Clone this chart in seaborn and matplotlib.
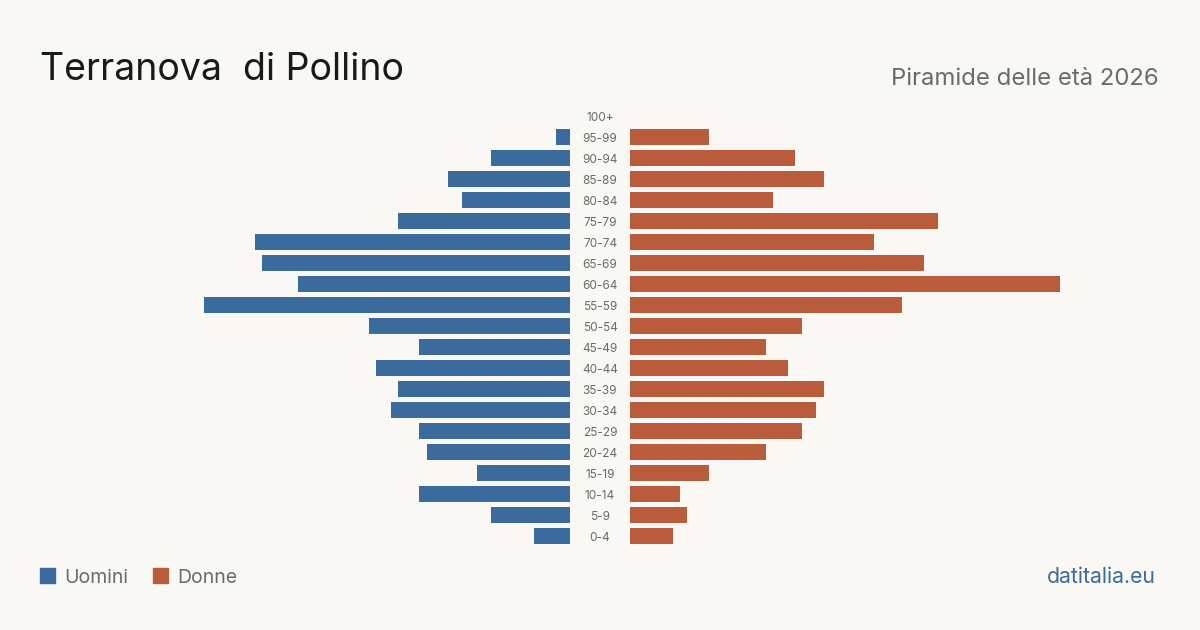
import matplotlib
matplotlib.use('Agg')
import matplotlib.pyplot as plt
import matplotlib.patches as mpatches
import pandas as pd
import seaborn as sns

# age classes, top to bottom
eta = ['100+', '95-99', '90-94', '85-89', '80-84', '75-79', '70-74', '65-69',
       '60-64', '55-59', '50-54', '45-49', '40-44', '35-39', '30-34', '25-29',
       '20-24', '15-19', '10-14', '5-9', '0-4']
uomini = [0, 2, 11, 17, 15, 24, 44, 43, 38, 51, 28, 21, 27, 24, 25, 21, 20, 13, 21, 11, 5]
donne = [0, 11, 23, 27, 20, 43, 34, 41, 60, 38, 24, 19, 22, 27, 26, 24, 19, 11, 7, 8, 6]

bg = '#f9f8f4'
blu = '#3b6b9c'
rosso = '#b95c3c'

sns.set_style('white')
plt.rcParams['font.family'] = ['Inter', 'DejaVu Sans']

df = pd.DataFrame({'eta': eta, 'Uomini': uomini, 'Donne': donne})

W, H = 1200, 630
fig = plt.figure(figsize=(12, 6.3), dpi=100, facecolor=bg)

px = 7.17  # pixels per person
top, bot = 105.5, 546.5
axL = fig.add_axes([40 / W, 1 - bot / H, 530 / W, (bot - top) / H])
axR = fig.add_axes([630 / W, 1 - bot / H, 530 / W, (bot - top) / H])

sns.barplot(data=df, y='eta', x='Uomini', orient='h', color=blu, width=0.8,
            saturation=1, linewidth=0, ax=axL)
sns.barplot(data=df, y='eta', x='Donne', orient='h', color=rosso, width=0.8,
            saturation=1, linewidth=0, ax=axR)

for ax in (axL, axR):
    ax.set_facecolor(bg)
    ax.set_ylim(len(eta) - 0.5, -0.5)
    ax.set_xlabel('')
    ax.set_ylabel('')
    ax.set_xticks([])
    ax.set_yticks([])
    for s in ax.spines.values():
        s.set_visible(False)
axL.set_xlim(530 / px, 0)
axR.set_xlim(0, 530 / px)

# age labels in the gap
for i, e in enumerate(eta):
    y = 1 - (top + 12.5 + 21 * i) / H
    fig.text(600 / W, y, e, ha='center', va='center', fontsize=8.5, color='#6a6a6a')

fig.text(40 / W, 1 - 80 / H, 'Terranova  di Pollino', fontsize=27, color='#1a1a1a',
         ha='left', va='baseline')
fig.text(1159 / W, 1 - 85 / H, 'Piramide delle età 2026', fontsize=17.2, color='#6b6b6b',
         ha='right', va='baseline')

# legend
fig.patches.append(mpatches.Rectangle((40 / W, 1 - 583 / H), 15 / W, 15 / H,
                                      transform=fig.transFigure, color=blu))
fig.text(64 / W, 1 - 583 / H, 'Uomini', fontsize=14, color='#6b6b6b', va='baseline')
fig.patches.append(mpatches.Rectangle((153 / W, 1 - 583 / H), 15 / W, 15 / H,
                                      transform=fig.transFigure, color=rosso))
fig.text(177 / W, 1 - 583 / H, 'Donne', fontsize=14, color='#6b6b6b', va='baseline')

fig.text(1156 / W, 1 - 583 / H, 'datitalia.eu', fontsize=15.3, color=blu,
         ha='right', va='baseline')

fig.savefig('out.png', dpi=100, facecolor=bg)
